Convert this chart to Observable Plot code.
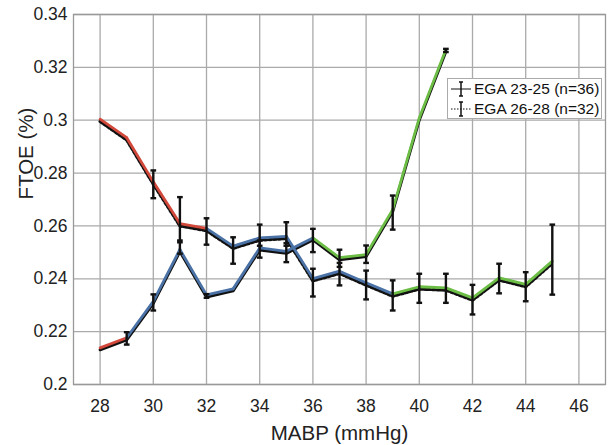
<!DOCTYPE html>
<html>
<head>
<meta charset="utf-8">
<script src="https://cdn.jsdelivr.net/npm/d3@7"></script>
<script src="https://cdn.jsdelivr.net/npm/@observablehq/plot@0.6"></script>
<style>
  body { margin: 0; background: #fff; }
  #wrap { position: relative; width: 613px; height: 445px; font-family: "Liberation Sans", Arial, sans-serif; }
  #wrap svg g[aria-label$="tick label"] { font-size: 17.5px; }
  #legend { position: absolute; left: 447px; top: 78px; width: 155px; height: 41px; background: #fff;
    border: 1px solid #aaa; box-sizing: border-box; font-size: 15.5px; color: #111; }
  #legend .row { position: absolute; left: 2px; height: 20px; display: flex; align-items: center; }
  #legend svg { margin-right: 2px; }
</style>
</head>
<body>
<div id="wrap"></div>
<script>
// ---- data ----
const xTicks = [28, 30, 32, 34, 36, 38, 40, 42, 44, 46];
const yTicks = [0.2, 0.22, 0.24, 0.26, 0.28, 0.3, 0.32, 0.34];

// EGA 23-25 (n=36), solid line
const mabpA = [28, 29, 30, 31, 32, 33, 34, 35, 36, 37, 38, 39, 40, 41];
const ftoeA = [0.2135, 0.2173, 0.2311, 0.2507, 0.2335, 0.2358, 0.2513, 0.2500, 0.2551, 0.2476, 0.2488, 0.2658, 0.3005, 0.3264];
const loA   = [null, 0.2151, 0.2280, 0.2495, 0.2328, null, 0.2480, 0.2463, 0.2501, 0.2445, 0.2460, 0.2586, null, 0.3258];
const hiA   = [null, 0.2198, 0.2341, 0.2545, 0.2342, null, 0.2545, 0.2535, 0.2589, 0.2510, 0.2526, 0.2715, null, 0.3270];
const phaseBreaksA = [29, 36];

// EGA 26-28 (n=32), dotted line
const mabpB = [28, 29, 30, 31, 32, 33, 34, 35, 36, 37, 38, 39, 40, 41, 42, 43, 44, 45];
const ftoeB = [0.3000, 0.2930, 0.2763, 0.2605, 0.2587, 0.2520, 0.2551, 0.2557, 0.2397, 0.2425, 0.2381, 0.2339, 0.2366, 0.2362, 0.2324, 0.2400, 0.2375, 0.2463];
const loB   = [null, null, 0.2705, 0.2538, 0.2529, 0.2457, 0.2525, 0.2525, 0.2333, 0.2375, 0.2322, 0.2280, 0.2309, 0.2309, 0.2265, 0.2345, 0.2315, 0.2340];
const hiB   = [null, null, 0.2810, 0.2709, 0.2629, 0.2557, 0.2605, 0.2614, 0.2438, 0.2460, 0.2431, 0.2394, 0.2419, 0.2419, 0.2377, 0.2457, 0.2425, 0.2605];
const phaseBreaksB = [32, 39];

const phases = ["low", "mid", "high"];
const phaseColors = ["#d2483a", "#4a72a6", "#6cbd45"];

// ---- build tables ----
const ptsA = mabpA.map((x, i) => ({x, y: ftoeA[i], lo: loA[i], hi: hiA[i]}));
const ptsB = mabpB.map((x, i) => ({x, y: ftoeB[i], lo: loB[i], hi: hiB[i]}));
function segments(pts, breaks) {
  const out = [];
  for (let i = 0; i < pts.length - 1; i++) {
    const a = pts[i], b = pts[i + 1];
    const p = a.x < breaks[0] ? 0 : a.x < breaks[1] ? 1 : 2;
    out.push({x1: a.x, y1: a.y, x2: b.x, y2: b.y, phase: phases[p]});
  }
  return out;
}
const segA = segments(ptsA, phaseBreaksA);
const segB = segments(ptsB, phaseBreaksB);
const barsA = ptsA.filter(d => d.lo != null);
const barsB = ptsB.filter(d => d.lo != null);
const bars = barsA.concat(barsB);

const cap = { draw(ctx, size) { const w = Math.sqrt(size) / 2; ctx.moveTo(-w, 0); ctx.lineTo(w, 0); } };

const font = "\"Liberation Sans\", Arial, sans-serif";
const chart = Plot.plot({
  width: 613, height: 445,
  marginLeft: 73, marginRight: 8, marginTop: 14, marginBottom: 61,
  style: { fontFamily: font, fontSize: "17.5px", color: "#222", background: "#fff" },
  x: { domain: [27, 47] },
  y: { domain: [0.2, 0.34] },
  color: { domain: phases, range: phaseColors },
  marks: [
    Plot.gridX(xTicks, { stroke: "#aaa", strokeOpacity: 1, strokeWidth: 1.3 }),
    Plot.gridY(yTicks, { stroke: "#aaa", strokeOpacity: 1, strokeWidth: 1.3 }),
    Plot.frame({ stroke: "#999", strokeWidth: 1.3 }),
    Plot.axisX(xTicks, { tickSize: 0, tickPadding: 15, fontSize: 17.5, label: null, tickFormat: d => String(d) }),
    Plot.axisY(yTicks, { tickSize: 0, tickPadding: 6, fontSize: 17.5, label: null, tickFormat: d => String(+d.toFixed(2)) }),
    Plot.text(["MABP (mmHg)"], { frameAnchor: "bottom", dy: 49, lineAnchor: "middle", fontSize: 20.5, fill: "#222", text: d => d }),
    Plot.text(["FTOE (%)"], { frameAnchor: "left", dx: -47, rotate: -90, lineAnchor: "middle", fontSize: 20.5, fill: "#222", text: d => d }),
    // black lines
    Plot.line(ptsB, { x: "x", y: "y", stroke: "#111", strokeWidth: 3.2, strokeDasharray: "2.4,2.2" , dy: 1.3}),
    Plot.line(ptsA, { x: "x", y: "y", stroke: "#111", strokeWidth: 3, dy: 1 }),
    // coloured overlays
    Plot.link(segB, { x1: "x1", y1: "y1", x2: "x2", y2: "y2", stroke: "phase", strokeWidth: 2.8, strokeLinecap: "round", dy: -1 }),
    Plot.link(segA, { x1: "x1", y1: "y1", x2: "x2", y2: "y2", stroke: "phase", strokeWidth: 2.8, strokeLinecap: "round", dy: -1 }),
    // error bars
    Plot.ruleX(bars, { x: "x", y1: "lo", y2: "hi", stroke: "#111", strokeWidth: 2.4 }),
    Plot.dot(bars, { x: "x", y: "lo", symbol: cap, r: 3.2, stroke: "#111", strokeWidth: 2.4, fill: "none" }),
    Plot.dot(bars, { x: "x", y: "hi", symbol: cap, r: 3.2, stroke: "#111", strokeWidth: 2.4, fill: "none" })
  ]
});
const wrap = document.getElementById("wrap");
wrap.appendChild(chart);

// legend
const seriesNames = ["EGA 23-25 (n=36)", "EGA 26-28 (n=32)"];
const legend = document.createElement("div");
legend.id = "legend";
seriesNames.forEach((name, i) => {
  const row = document.createElement("div");
  row.className = "row";
  row.style.top = (i * 20) + "px";
  const dash = i === 0 ? "" : "stroke-dasharray='1.5,1.5'";
  row.innerHTML = `<svg width="22" height="20"><line x1="1" x2="21" y1="10" y2="10" stroke="#111" stroke-width="1" ${dash}/>` +
    `<line x1="11" x2="11" y1="3" y2="17" stroke="#111" stroke-width="1.5"/>` +
    `<line x1="9" x2="13" y1="3" y2="3" stroke="#111" stroke-width="1.5"/><line x1="9" x2="13" y1="17" y2="17" stroke="#111" stroke-width="1.5"/></svg>` +
    `<span>${name}</span>`;
  legend.appendChild(row);
});
wrap.appendChild(legend);
</script>
</body>
</html>
